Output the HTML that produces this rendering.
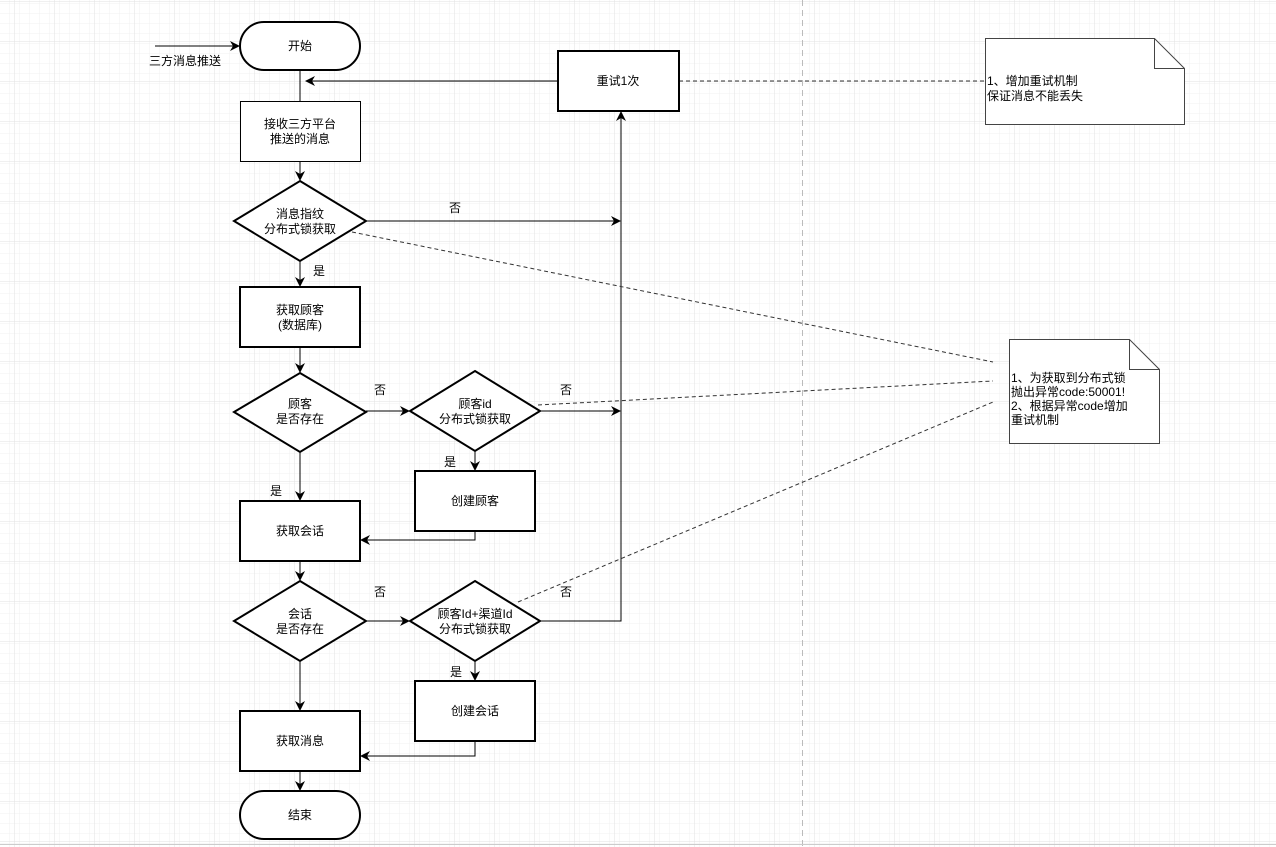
<!DOCTYPE html>
<html><head><meta charset="utf-8"><style>
html,body{margin:0;padding:0;background:#fff}
svg{display:block}
text{font-family:"Liberation Sans","Noto Sans CJK SC",sans-serif;font-size:12px;fill:#000}
</style></head><body>
<svg width="1276" height="847" viewBox="0 0 1276 847" xmlns="http://www.w3.org/2000/svg">
<defs>
<pattern id="minor" width="10" height="10" patternUnits="userSpaceOnUse" x="5" y="2">
<path d="M10 0V10M0 10H10" fill="none" stroke="#f0f0f0" stroke-width="1"/>
</pattern>
<pattern id="major" width="40" height="40" patternUnits="userSpaceOnUse" x="15" y="2">
<rect width="40" height="40" fill="url(#minor)"/>
<path d="M40 0V40M0 40H40" fill="none" stroke="#e2e2e2" stroke-width="1"/>
</pattern>
<marker id="a" markerWidth="10" markerHeight="10" refX="9" refY="5" orient="auto" markerUnits="userSpaceOnUse">
<path d="M0,0 L10,5 L0,10 L3,5 Z" fill="#000"/>
</marker>
</defs>
<rect width="1276" height="847" fill="url(#major)"/>
<line x1="802.5" y1="0" x2="802.5" y2="847" stroke="#bbb" stroke-dasharray="6,4"/>
<line x1="0" y1="844.5" x2="1276" y2="844.5" stroke="#ccc"/>

<g fill="none" stroke="#000" stroke-width="1">
<line x1="155" y1="46" x2="239" y2="46" marker-end="url(#a)"/>
<line x1="300" y1="70" x2="300" y2="101"/>
<line x1="558" y1="81" x2="306" y2="81" marker-end="url(#a)"/>
<line x1="300" y1="161" x2="300" y2="180" marker-end="url(#a)"/>
<line x1="366" y1="221" x2="620" y2="221" marker-end="url(#a)"/>
<polyline points="540,621 621,621 621,112" marker-end="url(#a)"/>
<line x1="300" y1="261" x2="300" y2="286" marker-end="url(#a)"/>
<line x1="300" y1="347" x2="300" y2="372" marker-end="url(#a)"/>
<line x1="366" y1="411" x2="409" y2="411" marker-end="url(#a)"/>
<line x1="540" y1="411" x2="620" y2="411" marker-end="url(#a)"/>
<line x1="475" y1="451" x2="475" y2="470" marker-end="url(#a)"/>
<polyline points="475,531 475,540 361,540" marker-end="url(#a)"/>
<line x1="300" y1="452" x2="300" y2="500" marker-end="url(#a)"/>
<line x1="300" y1="561" x2="300" y2="580" marker-end="url(#a)"/>
<line x1="366" y1="621" x2="409" y2="621" marker-end="url(#a)"/>
<line x1="475" y1="661" x2="475" y2="680" marker-end="url(#a)"/>
<polyline points="475,741 475,756 361,756" marker-end="url(#a)"/>
<line x1="300" y1="661" x2="300" y2="710" marker-end="url(#a)"/>
<line x1="300" y1="771" x2="300" y2="790" marker-end="url(#a)"/>
</g>
<g fill="none" stroke="#333" stroke-width="1" stroke-dasharray="4,3">
<line x1="679" y1="81" x2="985" y2="81"/>
<line x1="352" y1="232" x2="993" y2="362"/>
<line x1="538" y1="405" x2="993" y2="381"/>
<line x1="518" y1="602" x2="993" y2="402"/>
</g>

<g fill="#fff" stroke="#000" stroke-width="2">
<rect x="240" y="22" width="120" height="48" rx="24"/>
<rect x="558" y="51" width="121" height="60"/>
<polygon points="300,181 366,221 300,261 234,221"/>
<rect x="240" y="287" width="120" height="60"/>
<polygon points="300,373 366,412 300,452 234,412"/>
<polygon points="475,371 540,411 475,451 410,411"/>
<rect x="415" y="471" width="120" height="60"/>
<rect x="240" y="501" width="120" height="60"/>
<polygon points="300,581 366,621 300,661 234,621"/>
<polygon points="475,581 540,621 475,661 410,621"/>
<rect x="415" y="681" width="120" height="60"/>
<rect x="240" y="711" width="120" height="60"/>
<rect x="240" y="791" width="120" height="48" rx="24"/>
</g>
<rect x="240.5" y="101.5" width="120" height="60" fill="#fff" stroke="#000" stroke-width="1"/>
<g fill="#fff" stroke="#444" stroke-width="1">
<path d="M985.5 38.5H1154.5L1184.5 68.5V124.5H985.5Z"/>
<path d="M1154.5 38.5V68.5H1184.5" fill="none"/>
<path d="M1009.5 339.5H1129.5L1159.5 369.5V443.5H1009.5Z"/>
<path d="M1129.5 339.5V369.5H1159.5" fill="none"/>
</g>

<g text-anchor="middle">
<text x="300" y="50">开始</text>
<text x="185" y="65">三方消息推送</text>
<text x="300" y="128">接收三方平台</text>
<text x="300" y="143">推送的消息</text>
<text x="618" y="85">重试1次</text>
<text x="300" y="218">消息指纹</text>
<text x="300" y="233">分布式锁获取</text>
<text x="455" y="212">否</text>
<text x="319" y="275">是</text>
<text x="300" y="314">获取顾客</text>
<text x="300" y="329">(数据库)</text>
<text x="300" y="408">顾客</text>
<text x="300" y="423">是否存在</text>
<text x="380" y="394">否</text>
<text x="475" y="408">顾客id</text>
<text x="475" y="423">分布式锁获取</text>
<text x="566" y="394">否</text>
<text x="450" y="466">是</text>
<text x="475" y="505">创建顾客</text>
<text x="276" y="495">是</text>
<text x="300" y="535">获取会话</text>
<text x="300" y="618">会话</text>
<text x="300" y="633">是否存在</text>
<text x="380" y="596">否</text>
<text x="475" y="618">顾客Id+渠道Id</text>
<text x="475" y="633">分布式锁获取</text>
<text x="566" y="596">否</text>
<text x="456" y="676">是</text>
<text x="475" y="715">创建会话</text>
<text x="300" y="745">获取消息</text>
<text x="300" y="819">结束</text>
</g>
<text x="987" y="85">1、增加重试机制</text>
<text x="987" y="100">保证消息不能丢失</text>
<text x="1011" y="382">1、为获取到分布式锁</text>
<text x="1011" y="396">抛出异常code:50001!</text>
<text x="1011" y="410">2、根据异常code增加</text>
<text x="1011" y="424">重试机制</text>
</svg>
</body></html>
